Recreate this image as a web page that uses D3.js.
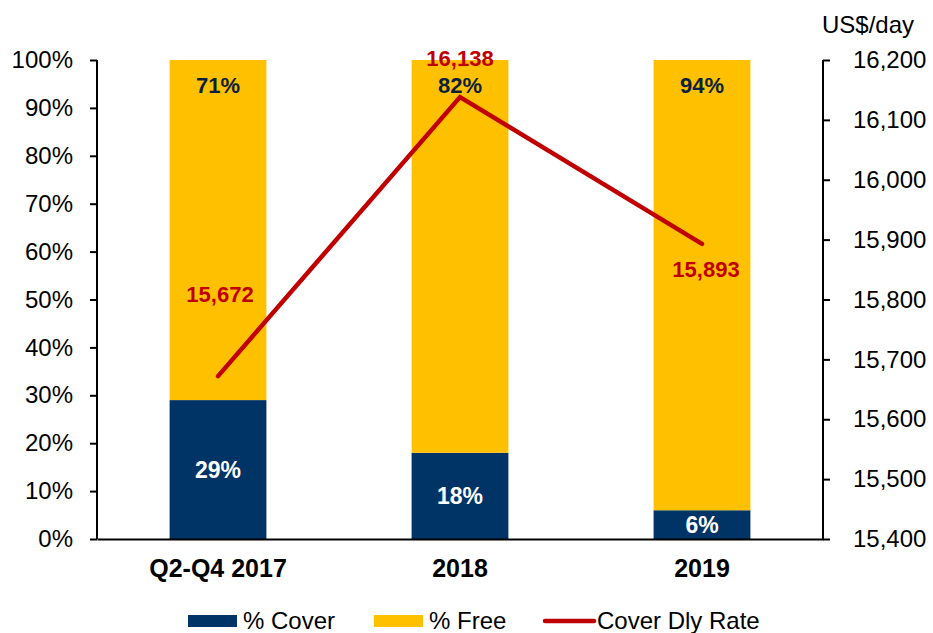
<!DOCTYPE html>
<html>
<head>
<meta charset="utf-8">
<script src="https://cdn.jsdelivr.net/npm/d3@7"></script>
<style>
  body { margin: 0; background: #fff; }
  svg { display: block; font-family: 'Liberation Sans', Arial, sans-serif; }
</style>
</head>
<body>
<div id="chart"></div>
<script>
const periods = ['Q2-Q4 2017', '2018', '2019'];
const coverPct = [29, 18, 6];
const freePct = [71, 82, 94];
const dlyRate = [15672, 16138, 15893];
const leftTicks = [0, 10, 20, 30, 40, 50, 60, 70, 80, 90, 100];
const rightTicks = [15400, 15500, 15600, 15700, 15800, 15900, 16000, 16100, 16200];

const Navy = '#003366';
const Yellow = '#FFC000';
const Red = '#C00000';
const DarkText = '#0b1f3f';

const width = 933;
const height = 633;
const margin = { top: 60, bottom: 94, left: 97, right: 110 };

const svg = d3
  .select('#chart')
  .append('svg')
  .attr('width', width)
  .attr('height', height);

const x = d3
  .scaleBand()
  .domain(periods)
  .range([margin.left, width - margin.right])
  .paddingInner(0.6)
  .paddingOuter(0.3);

const y = d3
  .scaleLinear()
  .domain([0, 100])
  .range([height - margin.bottom, margin.top]);

const y2 = d3
  .scaleLinear()
  .domain([15400, 16200])
  .range([height - margin.bottom, margin.top]);

const data = periods.map((p, i) => ({
  period: p,
  cover: coverPct[i],
  free: freePct[i],
  rate: dlyRate[i],
}));

// bars
const bars = svg.append('g');
bars
  .selectAll('.cover')
  .data(data)
  .join('rect')
  .attr('class', 'cover')
  .attr('x', (d) => x(d.period))
  .attr('width', x.bandwidth())
  .attr('y', (d) => y(d.cover))
  .attr('height', (d) => y(0) - y(d.cover))
  .attr('fill', Navy);

bars
  .selectAll('.free')
  .data(data)
  .join('rect')
  .attr('class', 'free')
  .attr('x', (d) => x(d.period))
  .attr('width', x.bandwidth())
  .attr('y', (d) => y(d.cover + d.free))
  .attr('height', (d) => y(d.cover) - y(d.cover + d.free))
  .attr('fill', Yellow);

// bar labels
bars
  .selectAll('.cover-anno')
  .data(data)
  .join('text')
  .attr('class', 'cover-anno')
  .attr('x', (d) => x(d.period) + x.bandwidth() / 2)
  .attr('y', (d) => (y(0) + y(d.cover)) / 2)
  .attr('dy', '0.36em')
  .attr('text-anchor', 'middle')
  .style('font-size', '23px')
  .style('font-weight', 700)
  .attr('fill', '#fff')
  .text((d) => d.cover + '%');

bars
  .selectAll('.free-anno')
  .data(data)
  .join('text')
  .attr('class', 'free-anno')
  .attr('x', (d) => x(d.period) + x.bandwidth() / 2)
  .attr('y', (d) => y(d.cover + d.free) + 33)
  .attr('text-anchor', 'middle')
  .style('font-size', '22px')
  .style('font-weight', 700)
  .attr('fill', DarkText)
  .text((d) => d.free + '%');

// axes
const leftAxis = svg
  .append('g')
  .attr('transform', `translate(${margin.left},0)`)
  .call(
    d3
      .axisLeft(y)
      .tickValues(leftTicks)
      .tickSize(7)
      .tickPadding(17)
      .tickFormat((d) => d + '%')
  );

const rightAxis = svg
  .append('g')
  .attr('transform', `translate(${width - margin.right},0)`)
  .call(
    d3
      .axisRight(y2)
      .tickValues(rightTicks)
      .tickSize(7)
      .tickPadding(23)
      .tickFormat(d3.format(','))
  );

const bottomAxis = svg
  .append('g')
  .attr('transform', `translate(0,${height - margin.bottom})`)
  .call(d3.axisBottom(x).tickSize(0).tickPadding(20));

[leftAxis, rightAxis, bottomAxis].forEach((a) => {
  a.selectAll('path').attr('stroke', '#000').attr('stroke-width', 2);
  a.selectAll('line').attr('stroke', '#000').attr('stroke-width', 2);
  a.selectAll('text')
    .attr('fill', '#000')
    .style('font-family', "'Liberation Sans', Arial, sans-serif");
});
leftAxis.selectAll('path').attr('d', `M0,${y(100)}V${y(0)}`);
rightAxis.selectAll('path').attr('d', `M0,${y2(16200)}V${y2(15400)}`);
leftAxis.selectAll('text').style('font-size', '24px');
rightAxis.selectAll('text').style('font-size', '24px');
bottomAxis
  .selectAll('text')
  .style('font-size', '25px')
  .style('font-weight', 700)
  .attr('dy', '0.71em');

svg
  .append('text')
  .attr('x', width - margin.right - 1)
  .attr('y', 33)
  .style('font-size', '24px')
  .attr('fill', '#000')
  .text('US$/day');

// rate line
const line = d3
  .line()
  .x((d) => x(d.period) + x.bandwidth() / 2)
  .y((d) => y2(d.rate));

svg
  .append('path')
  .datum(data)
  .attr('d', line)
  .attr('fill', 'none')
  .attr('stroke', Red)
  .attr('stroke-width', 4.5)
  .attr('stroke-linecap', 'round')
  .attr('stroke-linejoin', 'miter');

const rateOffsets = [
  [2, -74],
  [0, -31],
  [4, 33],
];

svg
  .selectAll('.rate-anno')
  .data(data)
  .join('text')
  .attr('class', 'rate-anno')
  .attr('x', (d, i) => x(d.period) + x.bandwidth() / 2 + rateOffsets[i][0])
  .attr('y', (d, i) => y2(d.rate) + rateOffsets[i][1])
  .attr('text-anchor', 'middle')
  .style('font-size', '22px')
  .style('font-weight', 700)
  .attr('fill', Red)
  .text((d) => d3.format(',')(d.rate));

// legend
const legendItems = [
  { label: '% Cover', type: 'rect', color: Navy, x: 188 },
  { label: '% Free', type: 'rect', color: Yellow, x: 374 },
  { label: 'Cover Dly Rate', type: 'line', color: Red, x: 543 },
];

const legend = svg.append('g');
const li = legend
  .selectAll('g')
  .data(legendItems)
  .join('g')
  .attr('transform', (d) => `translate(${d.x},615)`);

li.filter((d) => d.type === 'rect')
  .append('rect')
  .attr('width', 49)
  .attr('height', 12)
  .attr('fill', (d) => d.color);

li.filter((d) => d.type === 'line')
  .append('line')
  .attr('x1', 2)
  .attr('x2', 51)
  .attr('y1', 6)
  .attr('y2', 6)
  .attr('stroke', (d) => d.color)
  .attr('stroke-width', 4.5)
  .attr('stroke-linecap', 'round');

li.append('text')
  .attr('x', (d) => (d.type === 'line' ? 54 : 55))
  .attr('y', 14)
  .style('font-size', '24px')
  .attr('fill', '#000')
  .text((d) => d.label);
</script>
</body>
</html>
